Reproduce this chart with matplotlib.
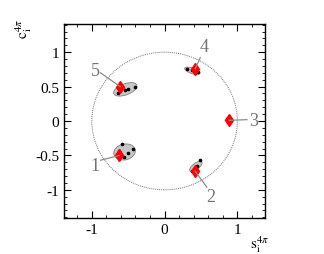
import matplotlib
matplotlib.use("Agg")
from matplotlib import pyplot as plt
from matplotlib.patches import Ellipse, Circle
from matplotlib.ticker import MultipleLocator, FormatStrFormatter

plt.rcParams["font.family"] = ["Liberation Serif", "DejaVu Serif"]
plt.rcParams["mathtext.fontset"] = "stix"

# bin labels and central (red) values
bins = ["1", "2", "3", "4", "5"]
s_val = [-0.62, 0.42, 0.89, 0.42, -0.61]
c_val = [-0.50, -0.73, 0.01, 0.76, 0.50]

# uncertainty ellipses: centre, width, height, angle
ell_s = [-0.55, 0.43, 0.88, 0.38, -0.54]
ell_c = [-0.45, -0.66, 0.03, 0.73, 0.46]
ell_w = [0.30, 0.21, 0.05, 0.22, 0.34]
ell_h = [0.23, 0.09, 0.04, 0.08, 0.16]
ell_a = [15, 40, 0, -20, 22]

# other measurements (black dots)
dot_s = [-0.58, -0.44, -0.63, -0.56, -0.50,
         0.49, 0.45, 0.40, 0.38,
         0.87, 0.86, 0.90,
         0.31, 0.37, 0.42, 0.46, 0.40,
         -0.64, -0.55, -0.50, -0.41, -0.58]
dot_c = [-0.34, -0.41, -0.44, -0.53, -0.47,
         -0.57, -0.65, -0.70, -0.72,
         0.05, 0.03, 0.02,
         0.75, 0.74, 0.70, 0.71, 0.77,
         0.40, 0.45, 0.47, 0.49, 0.50]

# label positions and leader line ends
lab_s = [-0.95, 0.64, 1.23, 0.54, -0.95]
lab_c = [-0.65, -1.10, 0.01, 1.08, 0.74]
line_s = [-0.88, 0.58, 1.13, 0.49, -0.88]
line_c = [-0.57, -0.96, 0.02, 0.92, 0.70]

fig = plt.figure(figsize=(3.24, 2.55), dpi=100)
ax = fig.add_axes([0.198, 0.141, 0.62, 0.761])

ax.add_patch(Circle((0, 0), 1, fill=False, ls=(0, (1, 1)), lw=0.7, color="0.45"))

for i in range(len(bins)):
    ax.add_patch(Ellipse((ell_s[i], ell_c[i]), ell_w[i], ell_h[i], angle=ell_a[i],
                         facecolor="0.78", edgecolor="0.5", lw=0.6))

ax.plot(dot_s, dot_c, "o", color="k", ms=1.6, ls="none")
ax.plot(s_val, c_val, "d", color="red", ms=6, ls="none")

for i in range(len(bins)):
    ax.plot([line_s[i], s_val[i]], [line_c[i], c_val[i]], color="0.55", lw=0.9)
    ax.text(lab_s[i], lab_c[i], bins[i], color="0.45", fontsize=13,
            ha="center", va="center")

ax.set_xlim(-1.38, 1.38)
ax.set_ylim(-1.41, 1.41)
ax.xaxis.set_major_locator(MultipleLocator(1))
ax.xaxis.set_minor_locator(MultipleLocator(0.2))
ax.yaxis.set_major_locator(MultipleLocator(0.5))
ax.yaxis.set_minor_locator(MultipleLocator(0.1))
ax.xaxis.set_major_formatter(FormatStrFormatter("%g"))
ax.yaxis.set_major_formatter(FormatStrFormatter("%g"))
ax.tick_params(which="both", direction="in", top=True, right=True, labelsize=11)
ax.tick_params(which="major", length=5, width=0.8)
ax.tick_params(which="minor", length=2.5, width=0.6)
for sp in ax.spines.values():
    sp.set_linewidth(1.0)

fig.text(0.80, 0.04, r"$\mathrm{s}_{\mathrm{i}}^{4\pi}$", fontsize=11, ha="center", va="center")
fig.text(0.072, 0.885, r"$\mathrm{c}_{\mathrm{i}}^{4\pi}$", fontsize=11, ha="center",
         va="center", rotation=90)

fig.savefig("out.png", dpi=100)
